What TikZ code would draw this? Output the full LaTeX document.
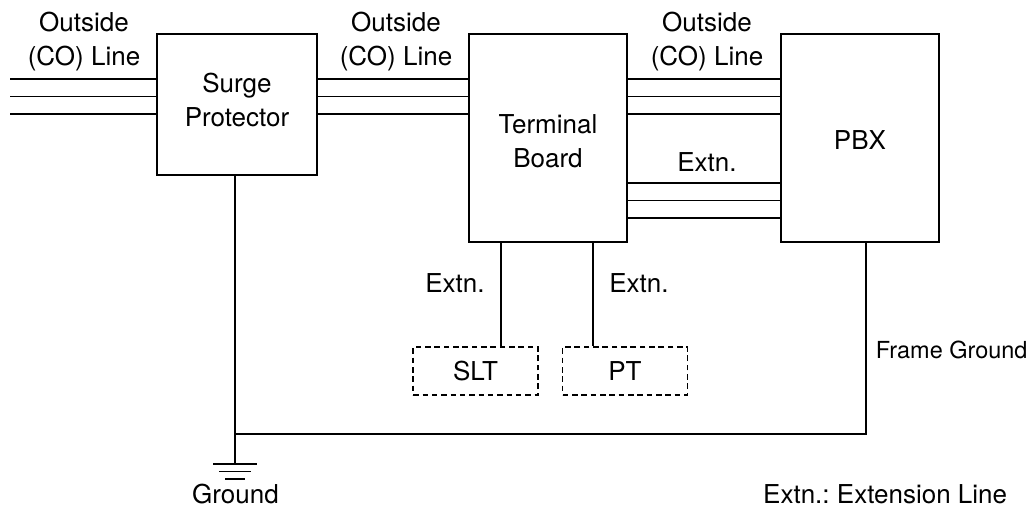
\documentclass[tikz,border=0pt]{standalone}
\usepackage{fontspec}
\setmainfont{TeX Gyre Heros}
\frenchspacing
\usetikzlibrary{positioning}

\begin{document}
\begin{tikzpicture}[x=0.75pt, y=-0.75pt, line width=1.4pt,
  box/.style={draw, line width=1.4pt, inner sep=0pt},
  term/.style={draw, dash pattern=on 4.2pt off 2.8pt, line width=1.1pt,
               minimum width=93.5pt, minimum height=36pt, inner sep=0pt,
               font=\fontsize{19.5}{25.5}\selectfont},
  lbl/.style={align=center, inner sep=0pt, font=\fontsize{19.5}{25}\selectfont}]
  \useasboundingbox (0,0) rectangle (1032,508);

  % main boxes
  \node[box, minimum width=120pt, minimum height=105.75pt] (surge) at (237,104.5) {};
  \node[box, minimum width=118.5pt, minimum height=156pt] (tb) at (548,138) {};
  \node[box, minimum width=118.5pt, minimum height=156pt] (pbx) at (860,138) {};
  \node[lbl, font=\fontsize{19.5}{26}\selectfont] (surgetxt) at ([yshift=3.4pt]surge.center) {Surge\\Protector};
  \node[lbl, font=\fontsize{19.5}{25.5}\selectfont] (tbtxt) at ([yshift=-2.6pt]tb.center) {Terminal\\Board};
  \node[lbl] (pbxtxt) at ([yshift=-1.5pt]pbx.center) {PBX};
  \node[term] (slt) at (475.5,371) {SLT};
  \node[term] (pt) at (625,371) {PT};

  % outside (CO) lines
  \coordinate (in) at (10,96.5);
  \foreach \y in {79,96.5,114} {
    \draw (in |- 0,\y) -- (surge.west |- 0,\y);
    \draw (surge.east |- 0,\y) -- (tb.west |- 0,\y);
    \draw (tb.east |- 0,\y) -- (pbx.west |- 0,\y);
  }
  % extension lines
  \foreach \y in {183,200.5,218}
    \draw (tb.east |- 0,\y) -- (pbx.west |- 0,\y);
  \draw (tb.south -| 501,0) -- (slt.north -| 501,0);
  \draw (tb.south -| 593,0) -- (pt.north -| 593,0);

  % grounding
  \coordinate (gnd) at (235,464);
  \coordinate (fg) at (866,434);
  \draw (surge.south -| gnd) -- (gnd);
  \draw (pbx.south -| fg) -- (fg) -- (fg -| gnd);
  \draw (gnd) +(-22,0) -- +(22,0)
        (gnd) +(-16,7.5) -- +(16,7.5)
        (gnd) +(-10,15) -- +(10,15);

  % labels
  \node[lbl] (co1) at (84,41.5) {Outside\\(CO) Line};
  \node[lbl] (co2) at (396,41.5) {Outside\\(CO) Line};
  \node[lbl] (co3) at (707,41.5) {Outside\\(CO) Line};
  \node[lbl] (ext1) at (707,162) {Extn.};
  \node[lbl] (ext2) at (455,283) {Extn.};
  \node[lbl] (ext3) at (639,283) {Extn.};
  \node[lbl, anchor=west, font=\fontsize{17.6}{21}\selectfont] (frame) at (875,350) {Frame Ground};
  \node[lbl] (ground) at (235.5,494) {Ground};
  \node[lbl, anchor=east] (key) at (1008,494) {Extn.: Extension Line};
\end{tikzpicture}
\end{document}
